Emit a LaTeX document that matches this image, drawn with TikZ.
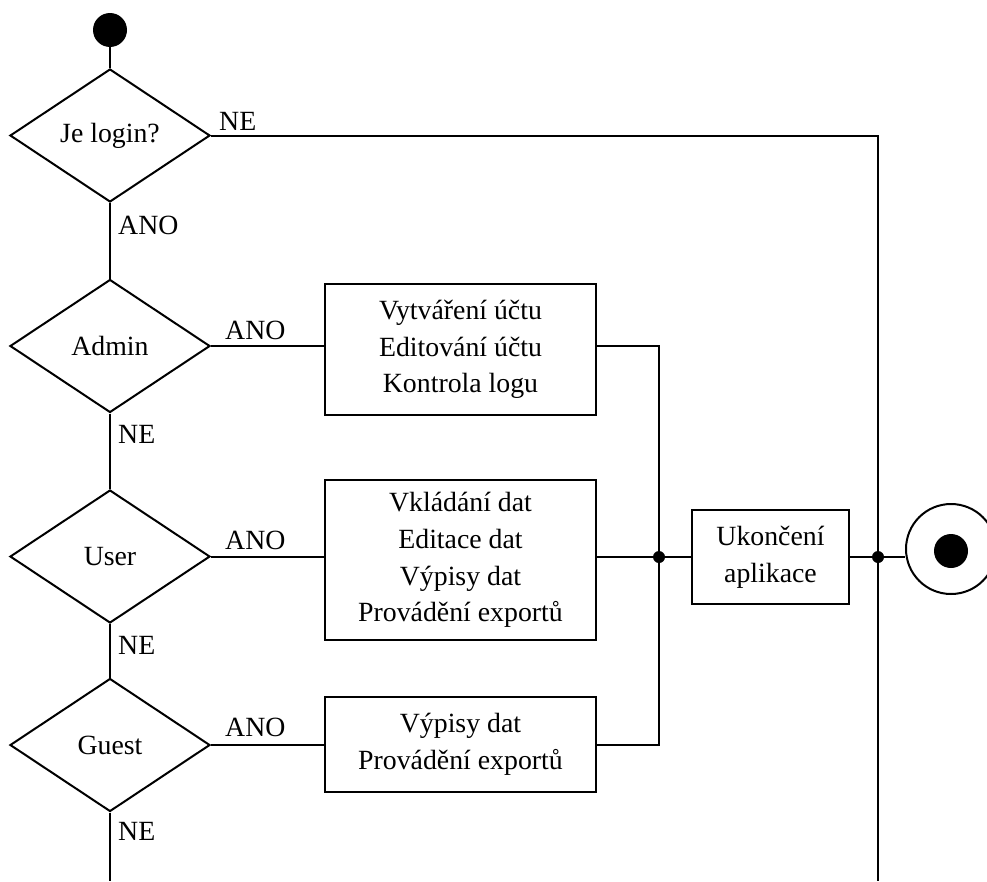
\documentclass[tikz,border=0pt]{standalone}
\usepackage{fontspec}
\setmainfont{Liberation Serif}
\usetikzlibrary{shapes.geometric,calc}

\tikzset{
  wire/.style={line width=2pt},
  decision/.style={draw, shape=diamond, aspect=1.5, minimum width=200pt,
    minimum height=133pt, inner sep=0pt, line width=2pt},
  actbox/.style={draw, rectangle, align=center, inner sep=0pt, line width=2.3pt},
  junction/.style={circle, fill=black, inner sep=0pt, minimum size=12pt},
  lbl/.style={inner sep=0pt},
}

\begin{document}
\begin{tikzpicture}[x=1pt, y=-1pt,
  every node/.append style={font=\fontsize{27.8}{36.7}\selectfont}]
  \useasboundingbox (0,0) rectangle (987,881);

  % start and end states
  \node[circle, fill=black, inner sep=0pt, minimum size=34pt] (start) at (110,30) {};
  \node[circle, draw, line width=2pt, inner sep=0pt, minimum size=90pt] (endc) at (951,549) {};
  \node[circle, fill=black, inner sep=0pt, minimum size=34pt] (enddot) at (951,551) {};

  % decisions
  \node[decision] (d1) at (110,135.5) {Je login?};
  \node[decision] (d2) at (110,346) {Admin};
  \node[decision] (d3) at (110,556.5) {User};
  \node[decision] (d4) at (110,745) {Guest};

  % activities
  \node[actbox, minimum width=271pt, minimum height=131pt] (b1) at (460.5,349.5)
    {Vytváření účtu\\Editování účtu\\Kontrola logu};
  \node[actbox, minimum width=271pt, minimum height=160pt] (b2) at (460.5,560)
    {Vkládání dat\\Editace dat\\Výpisy dat\\Provádění exportů};
  \node[actbox, minimum width=271pt, minimum height=95pt] (b3) at (460.5,744.5)
    {Výpisy dat\\Provádění exportů};
  \node[actbox, minimum width=157pt, minimum height=94pt] (b4) at (770.5,557)
    {Ukončení\\aplikace};

  % junctions and free ends
  \node[junction] (j1) at (659,557) {};
  \node[junction] (j2) at (878,557) {};
  \coordinate (tr) at (878,135.5);
  \coordinate (br) at (878,881);
  \coordinate (bl) at (110,881);

  % connectors
  \draw[wire] (start) -- (d1);
  \draw[wire] (d1) -- (d2);
  \draw[wire] (d2) -- (d3);
  \draw[wire] (d3) -- (d4);
  \draw[wire] (d4.south) -- (bl);
  \draw[wire] (d1.east) -- (tr) -- (j2) -- (br);

  \draw[wire] (d2.east) -- (b1.west |- d2.east);
  \draw[wire] (d3.east) -- (b2.west |- d3.east);
  \draw[wire] (d4.east) -- (b3.west |- d4.east);

  \draw[wire] (b1.east |- d2.east) -- (j1 |- d2.east) -- (j1);
  \draw[wire] (b3.east |- d4.east) -- (j1 |- d4.east) -- (j1);
  \draw[wire] (b2.east |- j1) -- (j1) -- (b4.west |- j1);
  \draw[wire] (b4.east |- j2) -- (j2) -- (j2 -| endc.west);

  % branch labels
  \node[lbl, anchor=base west] at ($(d1.east)+(8,-5.5)$) {NE};
  \node[lbl, anchor=base west] at ($(d2.east)+(14,-7)$) {ANO};
  \node[lbl, anchor=base west] at ($(d3.east)+(14,-7)$) {ANO};
  \node[lbl, anchor=base west] at ($(d4.east)+(14,-9)$) {ANO};

  \node[lbl, anchor=north west] at ($(d1.south)+(8,13)$) {ANO};
  \node[lbl, anchor=north west] at ($(d2.south)+(8,12)$) {NE};
  \node[lbl, anchor=north west] at ($(d3.south)+(8,12)$) {NE};
  \node[lbl, anchor=north west] at ($(d4.south)+(8,10)$) {NE};
\end{tikzpicture}
\end{document}
